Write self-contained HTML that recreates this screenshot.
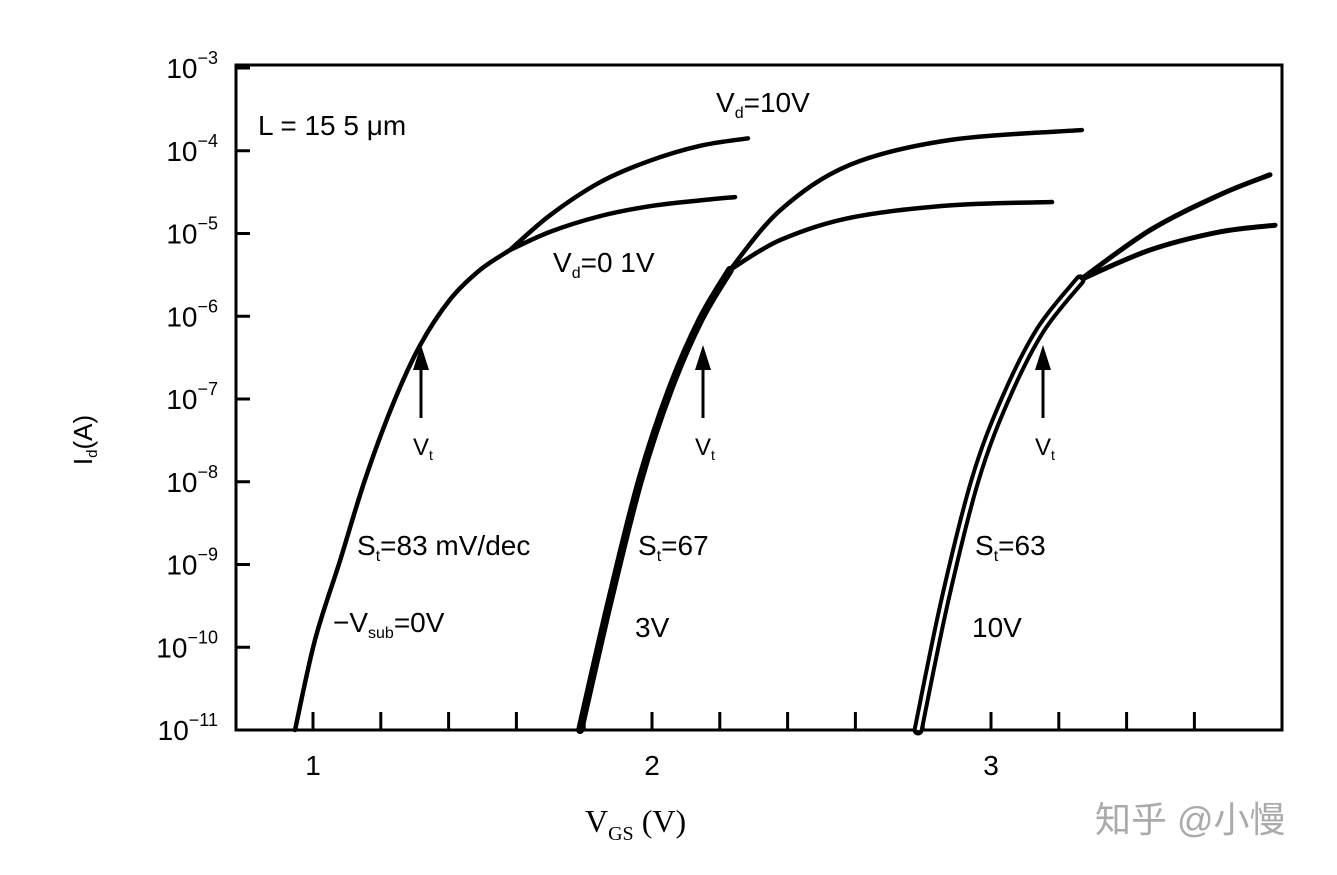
<!DOCTYPE html>
<html><head><meta charset="utf-8"><style>
body{margin:0;background:#fff;}
svg{display:block;font-family:"Liberation Sans","Noto Sans CJK SC",sans-serif;}
</style></head><body>
<svg id="chart" width="1337" height="875" viewBox="0 0 1337 875">
<g id="axes"></g><g id="curves"></g><g id="ann"></g>
</svg>
<script>
const xTicks=[1,2,3];
const yExps=[-3,-4,-5,-6,-7,-8,-9,-10,-11];
const minorX=[1.0,1.2,1.4,1.6,1.8,2.0,2.2,2.4,2.6,2.8,3.0,3.2,3.4,3.6];
// curve 1 (Vsub=0V)
const c1V=[0.947,1.006,1.080,1.153,1.236,1.316,1.404,1.493,1.581];
const c1L=[-11,-9.91,-8.95,-7.98,-7.06,-6.35,-5.80,-5.44,-5.20];
const c1hiV=[1.581,1.699,1.847,1.994,2.142,2.283];
const c1hiL=[-5.20,-4.78,-4.38,-4.12,-3.94,-3.85];
const c1loV=[1.581,1.699,1.847,1.994,2.142,2.245];
const c1loL=[-5.20,-4.98,-4.79,-4.67,-4.60,-4.56];
// curve 2 (3V)
const c2V=[1.788,1.876,1.965,2.053,2.142,2.230];
const c2L=[-11,-9.43,-7.98,-6.89,-6.05,-5.44];
const c2hiV=[2.230,2.378,2.584,2.879,3.268];
const c2hiL=[-5.44,-4.72,-4.17,-3.87,-3.75];
const c2loV=[2.230,2.378,2.584,2.879,3.180];
const c2loL=[-5.44,-5.08,-4.81,-4.66,-4.62];
// curve 3 (10V)
const c3V=[2.785,2.864,2.953,3.041,3.145,3.263];
const c3L=[-11,-9.43,-7.98,-7.01,-6.17,-5.56];
const c3hiV=[3.263,3.469,3.676,3.823];
const c3hiL=[-5.56,-4.96,-4.53,-4.29];
const c3loV=[3.263,3.469,3.676,3.838];
const c3loL=[-5.56,-5.20,-4.98,-4.90];

const NS="http://www.w3.org/2000/svg";
const X0=236,X1=1282,Y0=65,Y1=730;
function sx(v){return 313+(v-1)*339;}
function sy(l){return 68+(-3-l)*82.75;}
function mk(t,a,p){const e=document.createElementNS(NS,t);for(const k in a)e.setAttribute(k,a[k]);p.appendChild(e);return e;}
const axes=document.getElementById('axes'),curves=document.getElementById('curves');
const frame=mk('rect',{x:X0,y:Y0,width:X1-X0,height:Y1-Y0,fill:'none',stroke:'#000','stroke-width':3},axes);


yExps.forEach(e=>{
  const y=sy(e);
  const t=mk('line',{x1:X0,x2:X0+14,y1:y,y2:y,stroke:'#000','stroke-width':3},axes);
  
  
  const tx=mk('text',{x:X0-18,y:y+10,'text-anchor':'end','font-size':28,fill:'#000'},axes);
  
  
  tx.innerHTML='10<tspan dy="-14" font-size="18">−'+(-e)+'</tspan>';
});
minorX.forEach(v=>{
  const x=sx(v);
  const t=mk('line',{x1:x,x2:x,y1:Y1,y2:Y1-18,stroke:'#000','stroke-width':3},axes);
  
  
});
xTicks.forEach(v=>{
  const t=mk('text',{x:sx(v),y:775,'text-anchor':'middle','font-size':28},axes);
  
  
  t.textContent=v;
});
function path(V,L){
  const p=V.map((v,i)=>[sx(v),sy(L[i])]);
  let d='M'+p[0][0]+','+p[0][1];
  for(let i=0;i<p.length-1;i++){
    const a=p[Math.max(0,i-1)],b=p[i],c=p[i+1],e=p[Math.min(p.length-1,i+2)];
    d+=' C'+(b[0]+(c[0]-a[0])/6)+','+(b[1]+(c[1]-a[1])/6)+' '+(c[0]-(e[0]-b[0])/6)+','+(c[1]-(e[1]-b[1])/6)+' '+c[0]+','+c[1];
  }
  return d;
}
function draw(V,L,name,w,dbl){
  const p=mk('path',{d:path(V,L),fill:'none',stroke:'#000','stroke-width':w,'stroke-linecap':'round'},curves);
  
  
  if(dbl){const q=mk('path',{d:path(V,L),fill:'none',stroke:'#fff','stroke-width':3},curves);
    
    }
}
draw(c1V,c1L,'curve-vsub0',4.5);
draw(c1hiV,c1hiL,'curve-vsub0-vd10',4.5);
draw(c1loV,c1loL,'curve-vsub0-vd01',4.5);
draw(c2V,c2L,'curve-vsub3',8);
draw(c2hiV,c2hiL,'curve-vsub3-vd10',4.5);
draw(c2loV,c2loL,'curve-vsub3-vd01',4.5);
draw(c3hiV,c3hiL,'curve-vsub10-vd10',5);
draw(c3loV,c3loL,'curve-vsub10-vd01',5);
draw(c3V,c3L,'curve-vsub10',11,true);
</script>
<svg style="position:absolute;left:0;top:0" width="1337" height="875">
<g font-family="Liberation Sans, sans-serif" fill="#000">
<text x="258" y="135" font-size="28">L = 15 5 μm</text>
<text x="716" y="112" font-size="28">V<tspan font-size="16" dy="6">d</tspan><tspan dy="-6">=10V</tspan></text>
<text x="553" y="272" font-size="28">V<tspan font-size="16" dy="6">d</tspan><tspan dy="-6">=0 1V</tspan></text>
<text x="357" y="555" font-size="28">S<tspan font-size="16" dy="6">t</tspan><tspan dy="-6">=83 mV/dec</tspan></text>
<text x="638" y="555" font-size="28">S<tspan font-size="16" dy="6">t</tspan><tspan dy="-6">=67</tspan></text>
<text x="975" y="555" font-size="28">S<tspan font-size="16" dy="6">t</tspan><tspan dy="-6">=63</tspan></text>
<text x="333" y="632" font-size="28">−V<tspan font-size="16" dy="6">sub</tspan><tspan dy="-6">=0V</tspan></text>
<text x="635" y="637" font-size="28">3V</text>
<text x="972" y="637" font-size="28">10V</text>
<g stroke="#000" stroke-width="3">
<line x1="421" y1="418" x2="421" y2="360"/><line x1="703" y1="418" x2="703" y2="360"/><line x1="1043" y1="418" x2="1043" y2="360"/>
</g>
<polygon points="421,345 413,370 429,370"/>
<polygon points="703,345 695,370 711,370"/>
<polygon points="1043,345 1035,370 1051,370"/>
<text x="413" y="455" font-size="24">V<tspan font-size="14" dy="5">t</tspan></text>
<text x="695" y="455" font-size="24">V<tspan font-size="14" dy="5">t</tspan></text>
<text x="1035" y="455" font-size="24">V<tspan font-size="14" dy="5">t</tspan></text>
<text x="585" y="832" font-size="32" font-family="Liberation Serif, serif">V<tspan font-size="20" dy="8">GS</tspan><tspan dy="-8"> (V)</tspan></text>
<text transform="translate(92,440) rotate(-90)" text-anchor="middle" font-size="26">I<tspan font-size="15" dy="5">d</tspan><tspan dy="-5">(A)</tspan></text>
<text x="1095" y="832" font-size="36" fill="#aaa" font-family="Liberation Sans, Noto Sans CJK SC, sans-serif">知乎 @小慢</text>
</g>
</svg>
</body></html>
